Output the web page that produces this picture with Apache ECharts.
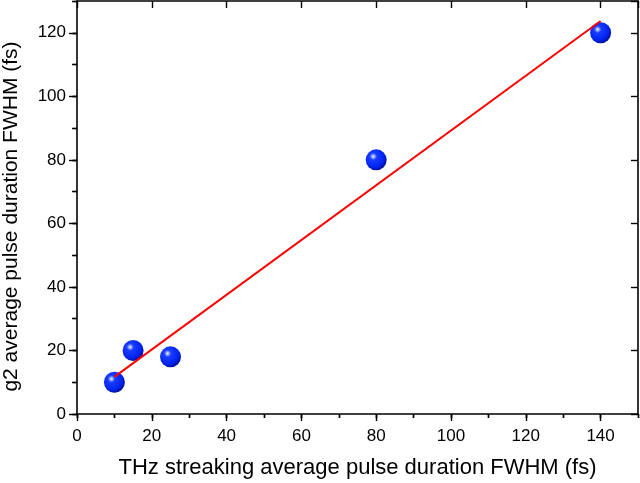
<!DOCTYPE html>
<html><head><meta charset="utf-8">
<script src="https://cdn.jsdelivr.net/npm/echarts@6/dist/echarts.min.js"></script>
<style>html,body{margin:0;padding:0;background:#fff}#c{width:640px;height:483px}</style>
</head><body><div id="c"></div>
<script>
var thzValues = [10, 15, 25, 80, 140];
var g2Values = [10, 20, 18, 80, 120];
var fitX = [10, 140];
var fitY = [11.7, 123.7];
var xTitle = 'THz streaking average pulse duration FWHM (fs)';
var yTitle = 'g2 average pulse duration FWHM (fs)';

var points = thzValues.map(function (x, i) { return [x, g2Values[i]]; });
var fitLine = fitX.map(function (x, i) { return [x, fitY[i]]; });

var font = 'Liberation Sans, Arial, sans-serif';
var lineStyle = { color: '#000', width: 1.6 };
function ax(opts) {
  var base = {
    type: 'value', min: 0, offset: 0, splitLine: { show: false },
    axisLine: { show: true, onZero: false, lineStyle: lineStyle },
    axisLabel: { show: false },
    axisTick: { show: true, lineStyle: { color: '#000', width: 1.4 } }
  };
  for (var k in opts) base[k] = opts[k];
  return base;
}
var chart = echarts.init(document.getElementById('c'));
chart.setOption({
  animation: false,
  grid: { left: 77, right: 2, top: 1, bottom: 69, containLabel: false, outerBoundsMode: 'none' },
  xAxis: [
    ax({ position: 'bottom', max: 150, interval: 20,
      axisTick: { inside: false, length: 7, lineStyle: { color: '#000', width: 1.4 } },
      axisLabel: { show: true, showMaxLabel: false, fontSize: 17, color: '#000', fontFamily: font, margin: 14 },
      name: xTitle, nameLocation: 'middle', nameGap: 43,
      nameTextStyle: { fontSize: 22, color: '#000', fontFamily: font } }),
    ax({ position: 'bottom', max: 150, interval: 10, axisLine: { show: false },
      axisTick: { inside: false, length: 4, lineStyle: { color: '#000', width: 1.4 } } }),
    ax({ position: 'top', max: 150, interval: 20,
      axisTick: { inside: true, length: 7, lineStyle: { color: '#000', width: 1.4 } } }),
    ax({ position: 'top', max: 150, interval: 10, axisLine: { show: false },
      axisTick: { inside: true, length: 4, lineStyle: { color: '#000', width: 1.4 } } })
  ],
  yAxis: [
    ax({ position: 'left', max: 130, interval: 20,
      axisTick: { inside: false, length: 8, lineStyle: { color: '#000', width: 1.4 } },
      axisLabel: { show: true, showMaxLabel: false, fontSize: 17, color: '#000', fontFamily: font, margin: 11 },
      name: yTitle, nameLocation: 'middle', nameGap: 55, nameRotate: 90,
      nameTextStyle: { fontSize: 21, color: '#000', fontFamily: font, padding: [0, 18, 0, 0] } }),
    ax({ position: 'left', max: 130, interval: 10, axisLine: { show: false },
      axisTick: { inside: false, length: 5, lineStyle: { color: '#000', width: 1.4 } } }),
    ax({ position: 'right', max: 130, interval: 20,
      axisTick: { inside: true, length: 7, lineStyle: { color: '#000', width: 1.4 } } }),
    ax({ position: 'right', max: 130, interval: 10, axisLine: { show: false },
      axisTick: { inside: true, length: 4, lineStyle: { color: '#000', width: 1.4 } } })
  ],
  series: [
    { type: 'scatter', data: points, xAxisIndex: 0, yAxisIndex: 0, symbolSize: 21, z: 2,
      itemStyle: { opacity: 1, color: { type: 'radial', x: 0.36, y: 0.34, r: 0.68, colorStops: [
        { offset: 0, color: '#ffffff' },
        { offset: 0.08, color: '#a8bbff' },
        { offset: 0.25, color: '#1a3cff' },
        { offset: 0.75, color: '#0024f0' },
        { offset: 1, color: '#0010a0' }
      ] } } },
    { type: 'line', data: fitLine, symbol: 'none', xAxisIndex: 0, yAxisIndex: 0,
      lineStyle: { color: '#ff0000', width: 2 }, z: 3 }
  ]
});
</script></body></html>
